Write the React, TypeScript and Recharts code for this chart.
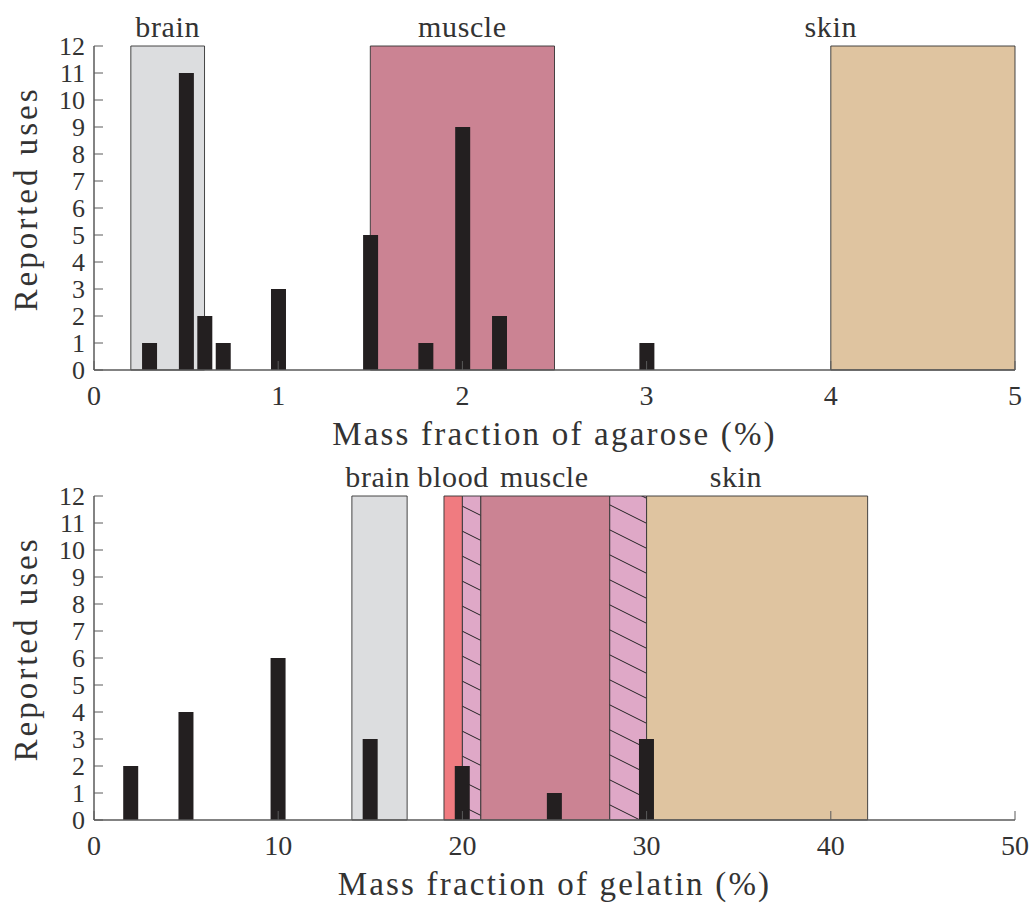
import React from 'react';
import { ComposedChart, Bar, XAxis, YAxis, ReferenceArea, ReferenceLine } from 'recharts';

// ---- data ----
const agaroseFraction = [0.3, 0.5, 0.6, 0.7, 1.0, 1.5, 1.8, 2.0, 2.2, 3.0];
const agaroseUses = [1, 11, 2, 1, 3, 5, 1, 9, 2, 1];
const gelatinFraction = [2, 5, 10, 15, 20, 25, 30];
const gelatinUses = [2, 4, 6, 3, 2, 1, 3];

const agaroseTicks = [0, 1, 2, 3, 4, 5];
const gelatinTicks = [0, 10, 20, 30, 40, 50];
const usesTicks = [0, 1, 2, 3, 4, 5, 6, 7, 8, 9, 10, 11, 12];

const agaroseRegions = [
  { tissue: 'brain', from: 0.2, to: 0.6 },
  { tissue: 'muscle', from: 1.5, to: 2.5 },
  { tissue: 'skin', from: 4, to: 5 },
];
const gelatinRegions = [
  { tissue: 'brain', from: 14, to: 17 },
  { tissue: 'blood', from: 19, to: 20 },
  { tissue: 'overlap', from: 20, to: 21 },
  { tissue: 'muscle', from: 21, to: 28 },
  { tissue: 'overlap', from: 28, to: 30 },
  { tissue: 'skin', from: 30, to: 42 },
];
const agaroseLabels = [
  { text: 'brain', at: 0.4 },
  { text: 'muscle', at: 2.0 },
  { text: 'skin', at: 4.0 },
];
const gelatinLabels = [
  { text: 'brain', at: 15.4 },
  { text: 'blood', at: 19.5 },
  { text: 'muscle', at: 24.45 },
  { text: 'skin', at: 34.85 },
];

// ---- style ----
const FONT = "'Liberation Serif', 'DejaVu Serif', serif";
const TEXT = '#333333';
const AXIS = '#5a5a5a';
const BAR = '#231f20';
const FILLS: Record<string, string> = {
  brain: '#dcdddf',
  blood: '#f07b80',
  muscle: '#cb8393',
  skin: '#dfc4a0',
  overlap: 'url(#hatchPink)',
};

const W = 1031;
const H = 457;
const MARGIN = { top: 46, right: 16, left: 0, bottom: 0 };

const LeftTick = (props: any) => {
  const { x, y, payload } = props;
  return (
    <g>
      <line x1={x} y1={y} x2={x + 9} y2={y} stroke={AXIS} strokeWidth={1} />
      <text x={x - 9} y={y + 8.5} textAnchor="end" style={{ fontFamily: FONT, fontSize: 26 }} fill={TEXT}>
        {payload.value}
      </text>
    </g>
  );
};
const RightTick = (props: any) => {
  const { x, y } = props;
  return <line x1={x} y1={y} x2={x - 9} y2={y} stroke={AXIS} strokeWidth={1} />;
};
const BottomTick = (props: any) => {
  const { x, y, payload } = props;
  return (
    <g>
      <line x1={x} y1={y} x2={x} y2={y - 9} stroke={AXIS} strokeWidth={1} />
      <text x={x} y={y + 35} textAnchor="middle" style={{ fontFamily: FONT, fontSize: 28 }} fill={TEXT}>
        {payload.value}
      </text>
    </g>
  );
};
const TopTick = (props: any) => {
  const { x, y } = props;
  return <line x1={x} y1={y} x2={x} y2={y + 9} stroke={AXIS} strokeWidth={1} />;
};

const XTitle = (text: string) => (props: any) => {
  const vb = props.viewBox || {};
  return (
    <text
      x={vb.x + vb.width / 2}
      y={vb.y + 75}
      textAnchor="middle"
      style={{ fontFamily: FONT, fontSize: 33, letterSpacing: '2.2px' }}
      fill={TEXT}
    >
      {text}
    </text>
  );
};
const YTitle = (props: any) => {
  const vb = props.viewBox || {};
  const cy = vb.y + vb.height / 2 - 9;
  return (
    <text
      x={37}
      y={cy}
      transform={`rotate(-90 37 ${cy})`}
      textAnchor="middle"
      style={{ fontFamily: FONT, fontSize: 33, letterSpacing: '3px' }}
      fill={TEXT}
    >
      Reported uses
    </text>
  );
};
const RegionLabel = (text: string) => (props: any) => {
  const vb = props.viewBox || {};
  return (
    <text
      x={vb.x}
      y={vb.y - 9}
      textAnchor="middle"
      style={{ fontFamily: FONT, fontSize: 30, letterSpacing: '0.6px' }}
      fill={TEXT}
    >
      {text}
    </text>
  );
};

type PanelProps = {
  xs: number[];
  ys: number[];
  ticks: number[];
  regions: { tissue: string; from: number; to: number }[];
  labels: { text: string; at: number }[];
  title: string;
  barSize: number;
};

const Panel = ({ xs, ys, ticks, regions, labels, title, barSize }: PanelProps) => {
  const data = xs.map((x, i) => ({ x, uses: ys[i] }));
  const domain: [number, number] = [ticks[0], ticks[ticks.length - 1]];
  return (
    <ComposedChart width={W} height={H} data={data} margin={MARGIN} style={{ fontFamily: FONT }}>
      <XAxis
        dataKey="x"
        type="number"
        domain={domain}
        ticks={ticks}
        allowDataOverflow
        height={87}
        tickSize={0}
        tickMargin={0}
        tickLine={false}
        axisLine={{ stroke: AXIS, strokeWidth: 1.5 }}
        tick={<BottomTick />}
        label={{ content: XTitle(title) }}
        interval={0}
      />
      <XAxis
        xAxisId="top"
        orientation="top"
        type="number"
        domain={domain}
        ticks={ticks}
        height={0}
        tickSize={0}
        tickMargin={0}
        tickLine={false}
        axisLine={{ stroke: AXIS, strokeWidth: 1.5 }}
        tick={<TopTick />}
        interval={0}
      />
      <YAxis
        type="number"
        domain={[0, 12]}
        ticks={usesTicks}
        width={94}
        tickSize={0}
        tickMargin={0}
        tickLine={false}
        axisLine={{ stroke: AXIS, strokeWidth: 1.5 }}
        tick={<LeftTick />}
        label={{ content: YTitle }}
        interval={0}
      />
      <YAxis
        yAxisId="right"
        orientation="right"
        type="number"
        domain={[0, 12]}
        ticks={usesTicks}
        width={0}
        tickSize={0}
        tickMargin={0}
        tickLine={false}
        axisLine={{ stroke: AXIS, strokeWidth: 1.5 }}
        tick={<RightTick />}
        interval={0}
      />
      {regions.map((r, i) => (
        <ReferenceArea
          key={'r' + i}
          x1={r.from}
          x2={r.to}
          y1={0}
          y2={12}
          fill={FILLS[r.tissue]}
          fillOpacity={1}
          stroke="#333"
          strokeWidth={1}
          strokeOpacity={0.9}
        />
      ))}
      {labels.map((l, i) => (
        <ReferenceLine
          key={'l' + i}
          x={l.at}
          stroke="none"
          strokeOpacity={0}
          label={{ content: RegionLabel(l.text) }}
        />
      ))}
      <Bar dataKey="uses" fill={BAR} barSize={barSize} isAnimationActive={false} />
    </ComposedChart>
  );
};

export default function App() {
  return (
    <div style={{ position: 'absolute', left: 0, top: 0, width: W, height: 907, background: '#fff', fontFamily: FONT }}>
      <svg width={0} height={0} style={{ position: 'absolute' }}>
        <defs>
          <pattern id="hatchPink" patternUnits="userSpaceOnUse" width={50} height={25}>
            <rect x={0} y={0} width={50} height={25} fill="#dfa8c7" />
            <path d="M0,0 L50,25 M-10,20 L10,30 M40,-5 L60,5" stroke="#222" strokeWidth={1} />
          </pattern>
        </defs>
      </svg>
      <div style={{ position: 'absolute', left: 0, top: 0 }}>
        <Panel
          xs={agaroseFraction}
          ys={agaroseUses}
          ticks={agaroseTicks}
          regions={agaroseRegions}
          labels={agaroseLabels}
          title="Mass fraction of agarose (%)"
          barSize={15}
        />
      </div>
      <div style={{ position: 'absolute', left: 0, top: 450 }}>
        <Panel
          xs={gelatinFraction}
          ys={gelatinUses}
          ticks={gelatinTicks}
          regions={gelatinRegions}
          labels={gelatinLabels}
          title="Mass fraction of gelatin (%)"
          barSize={15}
        />
      </div>
    </div>
  );
}
